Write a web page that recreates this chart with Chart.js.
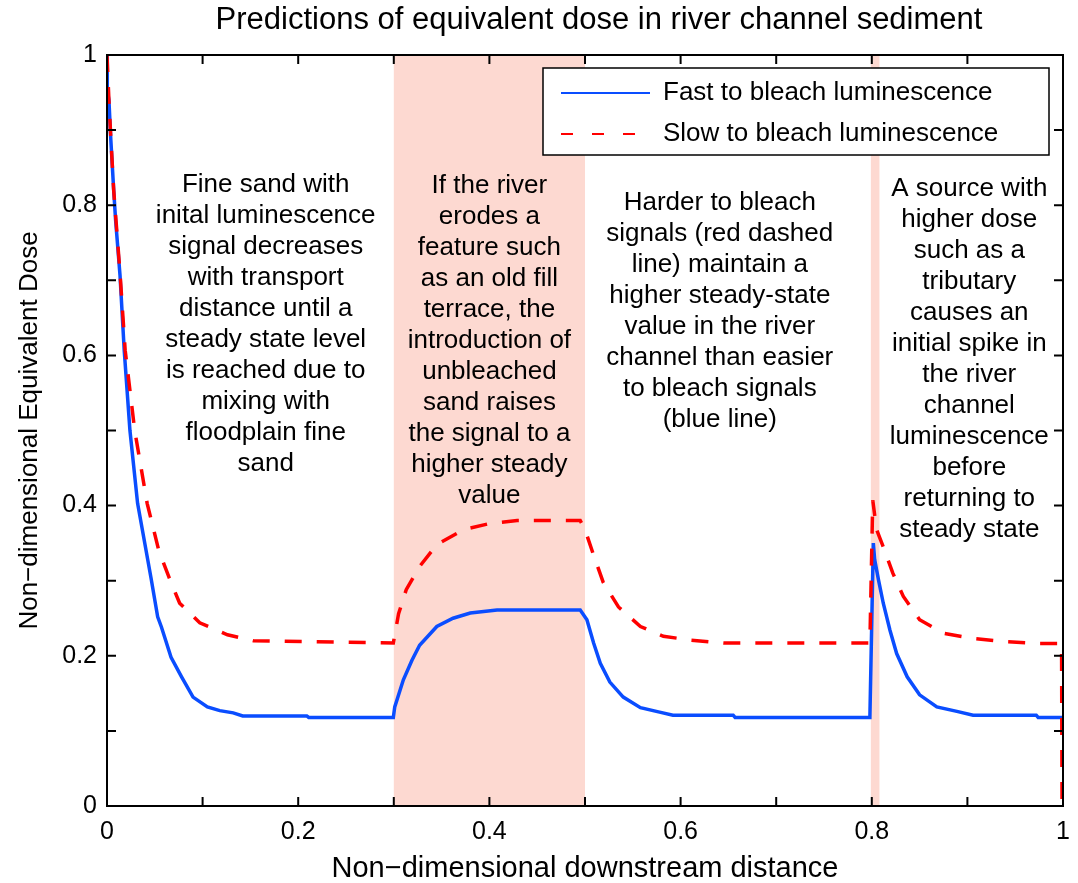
<!DOCTYPE html>
<html>
<head>
<meta charset="utf-8">
<title>Predictions of equivalent dose in river channel sediment</title>
<script src="https://cdn.jsdelivr.net/npm/chart.js@4.4.1/dist/chart.umd.min.js"></script>
<style>
  body { margin: 0; background: #fff; }
  canvas { display: block; }
</style>
</head>
<body>
<canvas id="doseChart" width="1078" height="883"></canvas>
<script>
// Fast to bleach luminescence (blue line)
const fastDistance = [0, 0.0003, 0.002, 0.004, 0.007, 0.009, 0.0136, 0.018, 0.024, 0.032, 0.046, 0.053, 0.057, 0.067, 0.078, 0.090, 0.105, 0.118, 0.132, 0.142, 0.209, 0.211, 0.2995,
    0.301, 0.31, 0.319, 0.327, 0.345, 0.362, 0.38, 0.408, 0.495,
    0.502, 0.509, 0.516, 0.526, 0.54, 0.558, 0.578, 0.592, 0.655, 0.657, 0.798,
    0.8016, 0.803, 0.807, 0.812, 0.819, 0.826, 0.837, 0.85, 0.868, 0.889, 0.906, 0.972, 0.974, 1.0];
const fastDose = [1.0, 0.953, 0.94, 0.887, 0.82, 0.78, 0.707, 0.607, 0.5, 0.403, 0.304, 0.252, 0.238, 0.198, 0.172, 0.145, 0.132, 0.127, 0.124, 0.12, 0.12, 0.118, 0.118,
    0.132, 0.168, 0.194, 0.214, 0.239, 0.25, 0.257, 0.261, 0.261,
    0.248, 0.217, 0.19, 0.165, 0.145, 0.131, 0.125, 0.121, 0.121, 0.118, 0.118,
    0.35, 0.328, 0.301, 0.27, 0.234, 0.203, 0.172, 0.148, 0.132, 0.126, 0.121, 0.121, 0.118, 0.118];

// Slow to bleach luminescence (red dashed line)
const slowDistance = [0, 0.002, 0.004, 0.007, 0.0136, 0.019, 0.029, 0.042, 0.054, 0.065, 0.076, 0.097, 0.126, 0.153, 0.2995,
    0.305, 0.313, 0.327, 0.345, 0.373, 0.40, 0.429, 0.495,
    0.50, 0.509, 0.519, 0.535, 0.558, 0.582, 0.61, 0.645, 0.798,
    0.801, 0.805, 0.812, 0.822, 0.833, 0.85, 0.875, 0.906, 0.9375, 0.976, 0.9985, 0.999];
const slowDose = [1.0, 0.94, 0.89, 0.82, 0.71, 0.607, 0.5, 0.403, 0.341, 0.304, 0.27, 0.244, 0.228, 0.22, 0.217,
    0.256, 0.288, 0.319, 0.348, 0.368, 0.376, 0.38, 0.38,
    0.368, 0.334, 0.298, 0.265, 0.239, 0.226, 0.221, 0.217, 0.217,
    0.407, 0.368, 0.345, 0.31, 0.279, 0.248, 0.23, 0.223, 0.219, 0.2165, 0.2165, 0];

// Axis tick labels (ticks every 0.1, labels every 0.2)
const tickValues = [0, 0.2, 0.4, 0.6, 0.8, 1];
const tickLabels = ["0", "0.2", "0.4", "0.6", "0.8", "1"];

// Shaded zones along the river (distance ranges)
const shadedZones = [[0.3, 0.5], [0.799, 0.808]];

// Text notes inside the plot
const notes = [
    { x: 0.166, y: 0.827, lines: ["Fine sand with", "inital luminescence", "signal decreases", "with transport", "distance until a", "steady state level", "is reached due to", "mixing with", "floodplain fine", "sand"] },
    { x: 0.40, y: 0.826, lines: ["If the river", "erodes a", "feature such", "as an old fill", "terrace, the", "introduction of", "unbleached", "sand raises", "the signal to a", "higher steady", "value"] },
    { x: 0.641, y: 0.803, lines: ["Harder to bleach", "signals (red dashed", "line) maintain a", "higher steady-state", "value in the river", "channel than easier", "to bleach signals", "(blue line)"] },
    { x: 0.902, y: 0.822, lines: ["A source with", "higher dose", "such as a", "tributary", "causes an", "initial spike in", "the river", "channel", "luminescence", "before", "returning to", "steady state"] },
];

const titleText = "Predictions of equivalent dose in river channel sediment";
const FONT = "'Liberation Sans', Arial, Helvetica, sans-serif";
Chart.defaults.font.family = FONT;
Chart.defaults.color = "#000";

const toPoints = (xs, ys) => xs.map((x, i) => ({ x: x, y: ys[i] }));

function tickLabel(value) {
    const i = tickValues.findIndex((t) => Math.abs(t - value) < 1e-6);
    return i >= 0 ? tickLabels[i] : "";
}

// draws shading, notes, box, inward ticks, legend and title
const figurePlugin = {
    id: "figure",
    beforeDatasetsDraw(chart) {
        const { ctx, chartArea, scales } = chart;
        ctx.save();
        ctx.fillStyle = "#fdd9d1";
        shadedZones.forEach(([a, b]) => {
            const x1 = scales.x.getPixelForValue(a);
            const x2 = scales.x.getPixelForValue(b);
            ctx.fillRect(x1, chartArea.top, x2 - x1, chartArea.bottom - chartArea.top);
        });

        ctx.fillStyle = "#000";
        ctx.font = "26px " + FONT;
        ctx.textAlign = "center";
        ctx.textBaseline = "middle";
        notes.forEach((note) => {
            const cx = scales.x.getPixelForValue(note.x);
            let cy = scales.y.getPixelForValue(note.y);
            note.lines.forEach((line) => {
                ctx.fillText(line, cx, cy);
                cy += 31;
            });
        });
        ctx.restore();
    },
    afterDraw(chart) {
        const { ctx, chartArea, scales } = chart;
        const { left, right, top, bottom } = chartArea;
        ctx.save();

        // axes box
        ctx.strokeStyle = "#000";
        ctx.lineWidth = 2;
        ctx.strokeRect(left, top, right - left, bottom - top);

        // inward ticks on all four sides
        const len = 9;
        ctx.beginPath();
        scales.x.ticks.forEach((t) => {
            const px = scales.x.getPixelForValue(t.value);
            ctx.moveTo(px, bottom); ctx.lineTo(px, bottom - len);
            ctx.moveTo(px, top); ctx.lineTo(px, top + len);
        });
        scales.y.ticks.forEach((t) => {
            const py = scales.y.getPixelForValue(t.value);
            ctx.moveTo(left, py); ctx.lineTo(left + len, py);
            ctx.moveTo(right, py); ctx.lineTo(right - len, py);
        });
        ctx.stroke();

        // legend
        const bx = right - 520, by = top + 13, bw = 506, bh = 87;
        ctx.fillStyle = "#fff";
        ctx.fillRect(bx, by, bw, bh);
        ctx.lineWidth = 1.5;
        ctx.strokeRect(bx, by, bw, bh);
        ctx.font = "26px " + FONT;
        ctx.textAlign = "left";
        ctx.textBaseline = "middle";
        chart.data.datasets.slice().reverse().forEach((ds, i) => {
            const ly = by + 25 + i * 41;
            ctx.strokeStyle = ds.borderColor;
            ctx.lineWidth = 2;
            ctx.setLineDash(ds.borderDash ? [12, 19] : []);
            ctx.beginPath();
            ctx.moveTo(bx + 18, ly);
            ctx.lineTo(bx + 107, ly);
            ctx.stroke();
            ctx.setLineDash([]);
            ctx.fillStyle = "#000";
            ctx.fillText(ds.label, bx + 120, ly);
        });

        // title
        ctx.font = "31px " + FONT;
        ctx.textAlign = "center";
        ctx.textBaseline = "alphabetic";
        ctx.fillText(titleText, (left + right) / 2 + 14, 29);
        ctx.restore();
    },
};

const ctx = document.getElementById("doseChart").getContext("2d");
new Chart(ctx, {
    type: "line",
    data: {
        datasets: [
            {
                label: "Slow to bleach luminescence",
                data: toPoints(slowDistance, slowDose),
                borderColor: "#ff0000",
                borderWidth: 3.5,
                borderDash: [17, 15],
                pointRadius: 0,
                tension: 0,
                order: 0,
            },
            {
                label: "Fast to bleach luminescence",
                data: toPoints(fastDistance, fastDose),
                borderColor: "#0a4dff",
                borderWidth: 3.5,
                pointRadius: 0,
                tension: 0,
                order: 1,
            },
        ],
    },
    options: {
        responsive: false,
        animation: false,
        layout: { padding: { left: 0, right: 15, top: 55, bottom: 0 } },
        plugins: {
            legend: { display: false },
            tooltip: { enabled: false },
        },
        scales: {
            x: {
                type: "linear",
                min: 0,
                max: 1,
                afterFit: (s) => { s.height = 77; s.paddingLeft = 0; s.paddingRight = 0; },
                grid: { display: false, drawTicks: false },
                border: { display: false },
                ticks: { stepSize: 0.1, autoSkip: false, maxRotation: 0, padding: 11, font: { size: 25 }, callback: tickLabel },
                title: { display: true, text: "Non\u2212dimensional downstream distance", font: { size: 29, lineHeight: 1 }, padding: { top: 0, bottom: 0 } },
            },
            y: {
                type: "linear",
                min: 0,
                max: 1,
                afterFit: (s) => { s.width = 107; s.paddingTop = 0; s.paddingBottom = 0; },
                grid: { display: false, drawTicks: false },
                border: { display: false },
                ticks: { stepSize: 0.1, autoSkip: false, padding: 10, font: { size: 25 }, callback: tickLabel },
                title: { display: true, text: "Non\u2212dimensional Equivalent Dose", font: { size: 26, lineHeight: 1 }, padding: { top: 17, bottom: 0 } },
            },
        },
    },
    plugins: [figurePlugin],
});
</script>
</body>
</html>
